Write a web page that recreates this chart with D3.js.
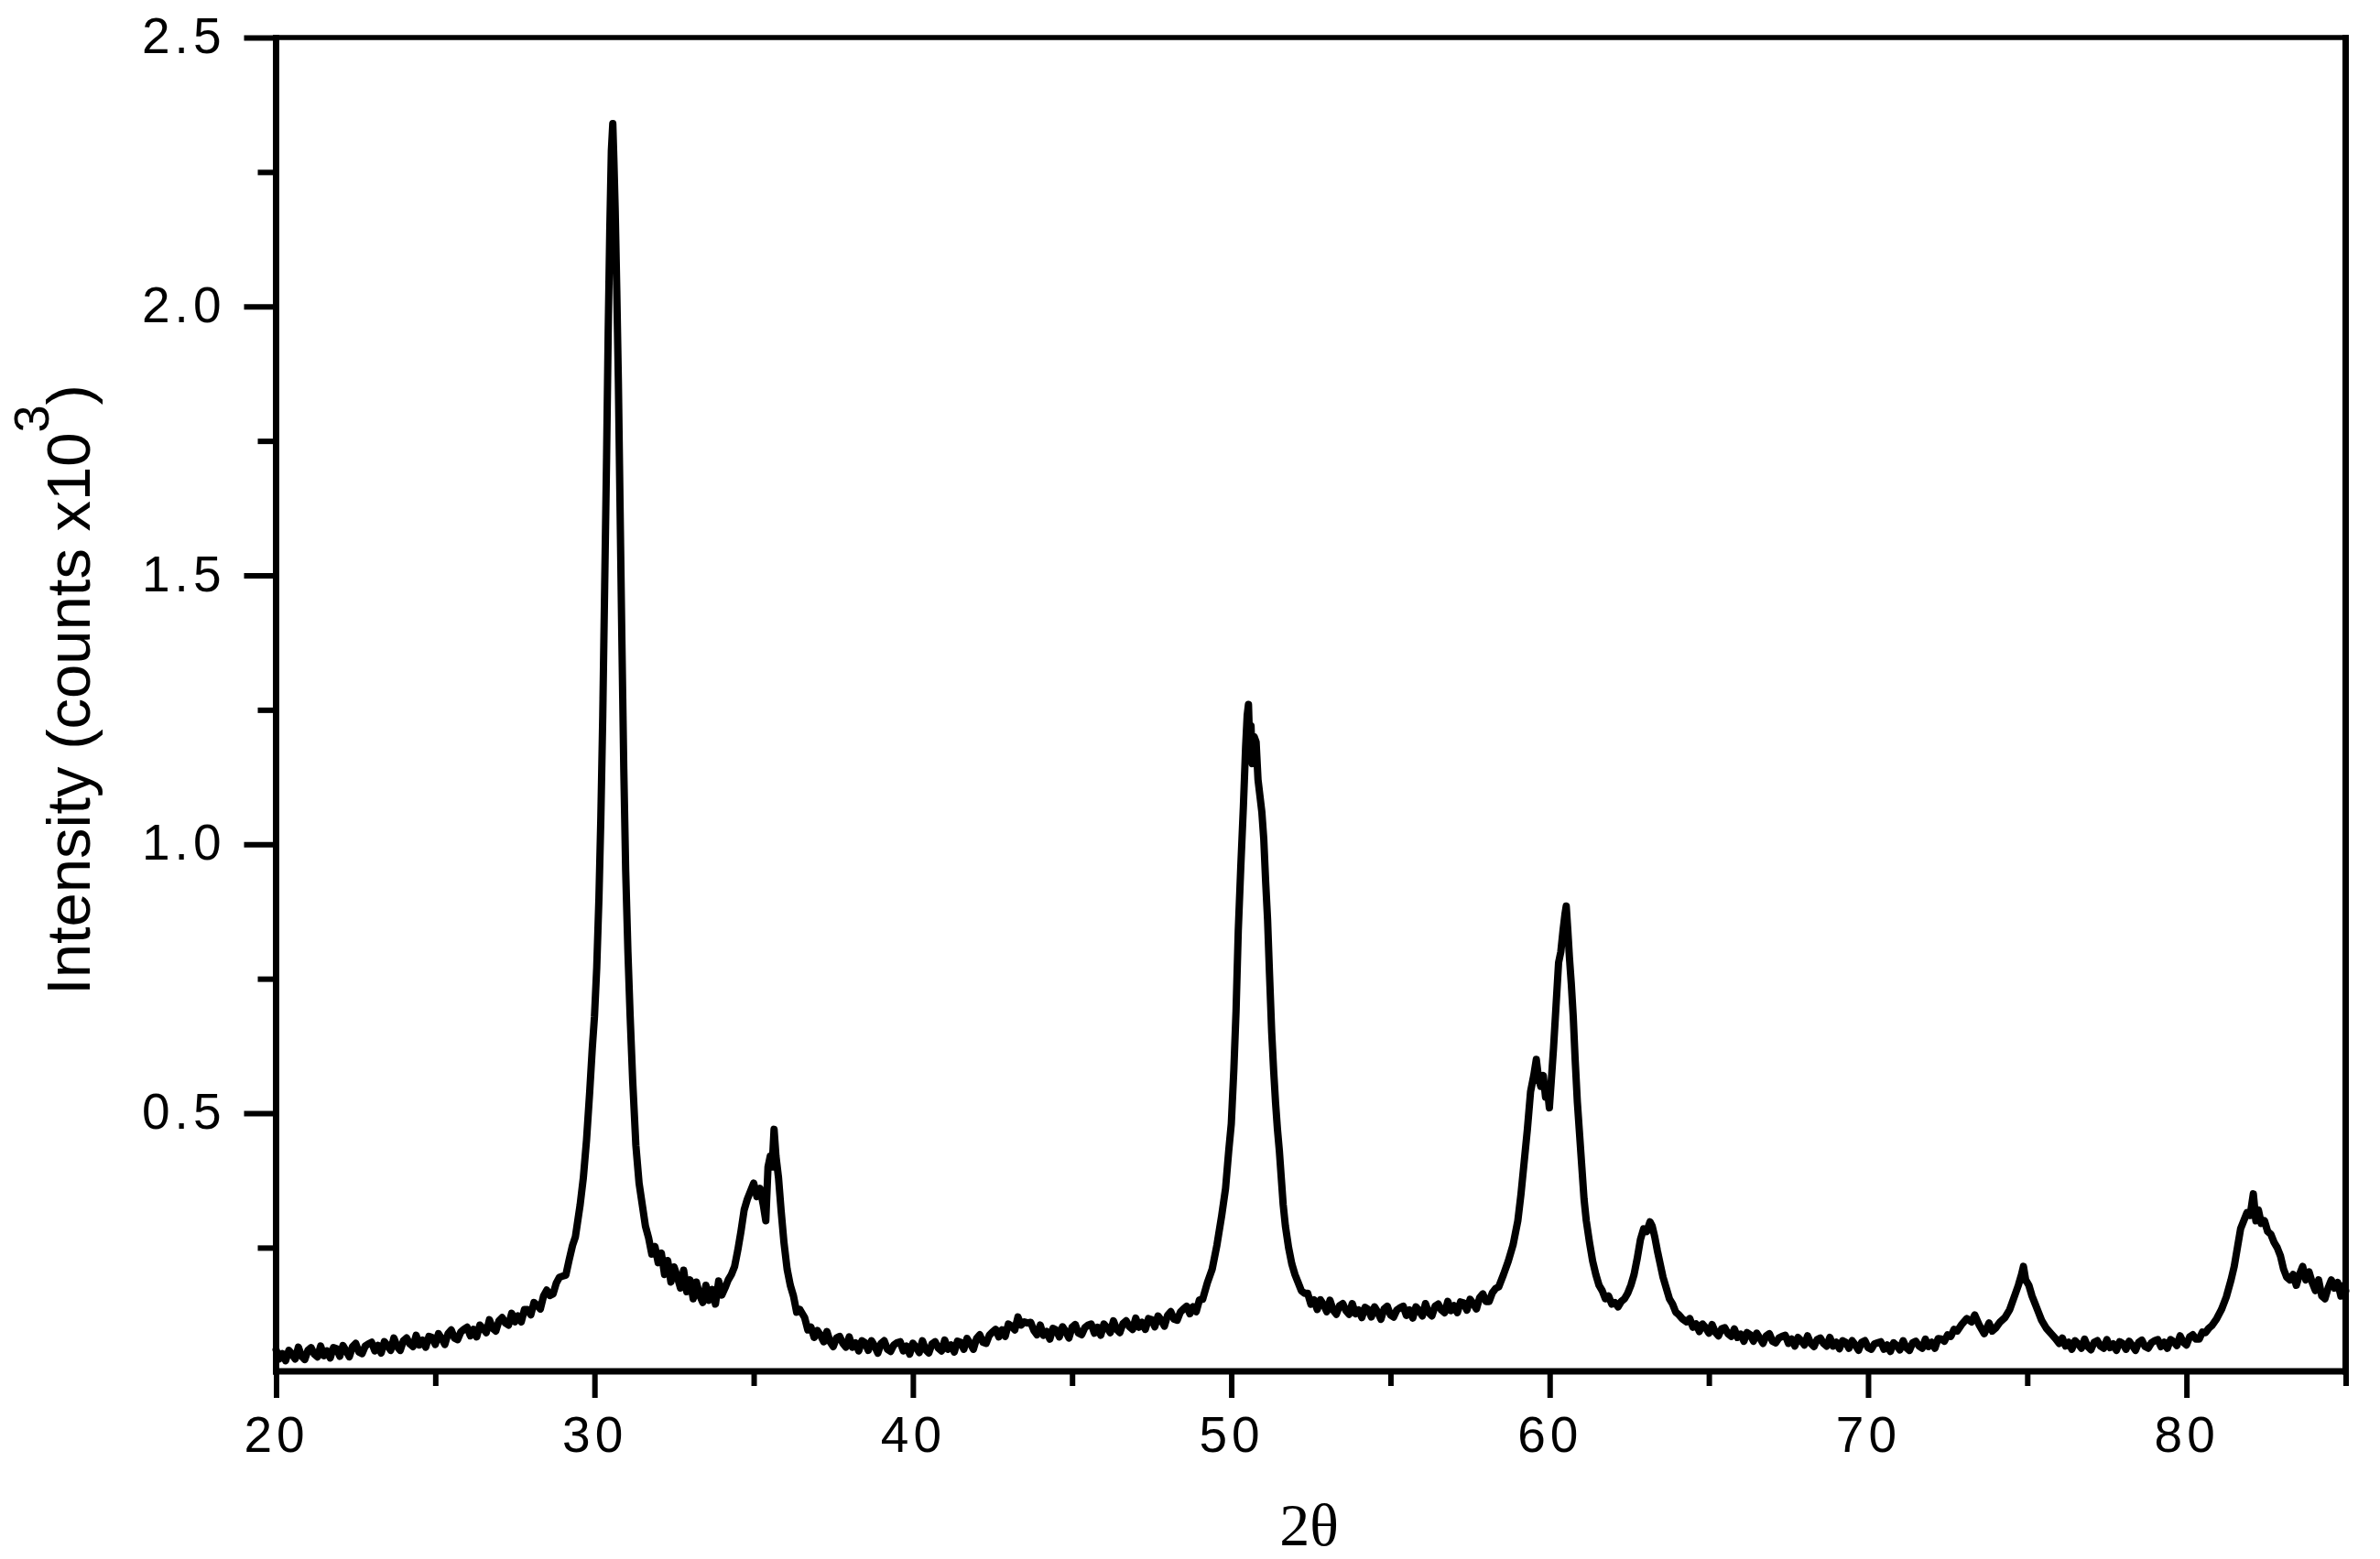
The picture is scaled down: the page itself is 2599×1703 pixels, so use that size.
<!DOCTYPE html>
<html><head><meta charset="utf-8">
<script src="https://cdn.jsdelivr.net/npm/d3@7"></script>
<style>html,body{margin:0;padding:0;background:#fff;} svg{display:block;}</style>
</head><body><div id="chart"></div>
<script>
// ---- tick values & labels ----
const xMajorTicks = [20, 30, 40, 50, 60, 70, 80];
const xMinorTicks = [25, 35, 45, 55, 65, 75, 85];
const yMajorTicks = [0.5, 1.0, 1.5, 2.0, 2.5];
const yMinorTicks = [0.25, 0.75, 1.25, 1.75, 2.25];
const xLabel = "2θ";
const yLabelMain = "Intensity (counts x10";
const yLabelSup = "3";
const yLabelEnd = ")";

// ---- series: [2θ, intensity (counts x10^3)] ----
const bgLow = [[20.0,0.060],[20.1,0.043],[20.2,0.053],[20.3,0.040],[20.4,0.059],[20.5,0.052],[20.6,0.043],[20.7,0.065],[20.8,0.048],[20.9,0.042],
 [21.0,0.059],[21.1,0.064],[21.2,0.052],[21.3,0.047],[21.4,0.067],[21.5,0.049],[21.6,0.058],[21.7,0.045],[21.8,0.064],[21.9,0.062],
 [22.0,0.048],[22.1,0.068],[22.2,0.058],[22.3,0.047],[22.4,0.066],[22.5,0.072],[22.6,0.056],[22.7,0.053],[22.8,0.067],[22.9,0.071],
 [23.0,0.074],[23.1,0.058],[23.2,0.068],[23.3,0.054],[23.4,0.075],[23.5,0.068],[23.6,0.059],[23.7,0.082],[23.8,0.066],[23.9,0.059],
 [24.0,0.077],[24.1,0.082],[24.2,0.071],[24.3,0.066],[24.4,0.087],[24.5,0.069],[24.6,0.078],[24.7,0.065],[24.8,0.085],[24.9,0.083],
 [25.0,0.070],[25.1,0.090],[25.2,0.081],[25.3,0.070],[25.4,0.090],[25.5,0.097],[25.6,0.082],[25.7,0.079],[25.8,0.093],[25.9,0.098],
 [26.0,0.102],[26.1,0.086],[26.2,0.098],[26.3,0.084],[26.4,0.106],[26.5,0.100],[26.6,0.092],[26.7,0.116],[26.8,0.100],[26.9,0.095],
 [27.0,0.114],[27.1,0.120],[27.2,0.110],[27.3,0.106],[27.4,0.128],[27.5,0.112],[27.6,0.123],[27.7,0.112],[27.8,0.135],[27.9,0.135],
 [28.0,0.125],[28.1,0.148],[28.2,0.143],[28.3,0.136],[28.4,0.160],[28.5,0.171],[28.6,0.161],[28.7,0.164],[28.8,0.184],[28.9,0.195],
 [29.0,0.197],[29.1,0.199],[29.2,0.226]];
const peak30 = [[29.31,0.254],[29.4,0.27],[29.55,0.33],[29.65,0.38],[29.75,0.45],[29.85,0.54],[29.93,0.62],[30.0,0.68],[30.07,0.77],[30.14,0.90],
 [30.2,1.05],[30.26,1.24],[30.32,1.48],[30.38,1.72],[30.43,1.95],[30.48,2.14],[30.53,2.29],[30.575,2.34],[30.61,2.27],[30.65,2.18],
 [30.7,2.03],[30.75,1.86],[30.8,1.64],[30.86,1.38],[30.92,1.14],[30.98,0.95],[31.05,0.80],[31.12,0.68],[31.2,0.56],[31.3,0.44],
 [31.4,0.37],[31.5,0.33],[31.6,0.29]];
const valley33 = [[31.7,0.268],[31.8,0.238],[31.9,0.252],[32.0,0.222],[32.1,0.240],[32.2,0.200],[32.3,0.226],[32.4,0.186],[32.5,0.214],[32.6,0.196],
 [32.7,0.175],[32.8,0.208],[32.9,0.168],[33.0,0.19],[33.1,0.155],[33.2,0.186],[33.3,0.162],[33.4,0.148],[33.5,0.18],[33.6,0.152],
 [33.7,0.172],[33.8,0.145],[33.9,0.188],[34.0,0.162],[34.1,0.175],[34.2,0.19],[34.3,0.20]];
const peak35 = [[34.4,0.215],[34.5,0.245],[34.6,0.28],[34.7,0.32],[34.8,0.34],[34.9,0.355],[35.0,0.37],[35.1,0.345],[35.2,0.36],[35.3,0.33],
 [35.38,0.30],[35.45,0.40],[35.52,0.42],[35.58,0.40],[35.64,0.47],[35.7,0.42],[35.78,0.38],[35.86,0.32],[35.95,0.26],[36.05,0.21],
 [36.15,0.18],[36.25,0.16],[36.35,0.13],[36.45,0.135]];
const bgMid = [[36.6,0.120],[36.7,0.097],[36.8,0.102],[36.9,0.083],[37.0,0.096],[37.1,0.087],[37.2,0.075],[37.3,0.094],[37.4,0.075],[37.5,0.066],
 [37.6,0.082],[37.7,0.085],[37.8,0.072],[37.9,0.065],[38.0,0.084],[38.1,0.065],[38.2,0.073],[38.3,0.058],[38.4,0.077],[38.5,0.073],
 [38.6,0.059],[38.7,0.077],[38.8,0.067],[38.9,0.054],[39.0,0.072],[39.1,0.077],[39.2,0.061],[39.3,0.057],[39.4,0.069],[39.5,0.073],
 [39.6,0.075],[39.7,0.058],[39.8,0.067],[39.9,0.052],[40.0,0.072],[40.1,0.065],[40.2,0.055],[40.3,0.077],[40.4,0.060],[40.5,0.054],
 [40.6,0.071],[40.7,0.075],[40.8,0.063],[40.9,0.058],[41.0,0.078],[41.1,0.061],[41.2,0.069],[41.3,0.056],[41.4,0.076],[41.5,0.074],
 [41.6,0.061],[41.7,0.081],[41.8,0.072],[41.9,0.061],[42.0,0.081],[42.1,0.088],[42.2,0.074],[42.3,0.072],[42.4,0.087],[42.5,0.093],
 [42.6,0.098],[42.7,0.084],[42.8,0.097],[42.9,0.085],[43.0,0.108],[43.1,0.104],[43.2,0.097],[43.3,0.121],[43.4,0.106],[43.5,0.112],
 [43.6,0.110],[43.7,0.111],[43.8,0.096],[43.9,0.088],[44.0,0.106],[44.1,0.087],[44.2,0.094],[44.3,0.080],[44.4,0.100],[44.5,0.097],
 [44.6,0.084],[44.7,0.103],[44.8,0.094],[44.9,0.082],[45.0,0.102],[45.1,0.107],[45.2,0.091],[45.3,0.088],[45.4,0.101],[45.5,0.106],
 [45.6,0.108],[45.7,0.091],[45.8,0.102],[45.9,0.087],[46.0,0.108],[46.1,0.101],[46.2,0.092],[46.3,0.114],[46.4,0.098],[46.5,0.092],
 [46.6,0.109],[46.7,0.114],[46.8,0.103],[46.9,0.098],[47.0,0.119],[47.1,0.102],[47.2,0.111],[47.3,0.098],[47.4,0.118],[47.5,0.116],
 [47.6,0.103],[47.7,0.123],[47.8,0.115],[47.9,0.104],[48.0,0.124],[48.1,0.131],[48.2,0.117],[48.3,0.115],[48.4,0.130],[48.5,0.136],
 [48.6,0.141],[48.7,0.127],[48.8,0.140],[48.9,0.131],[49.0,0.153],[49.1,0.154]];
const peak50 = [[49.25,0.185],[49.4,0.21],[49.55,0.255],[49.7,0.31],[49.82,0.36],[49.92,0.43],[50.0,0.48],[50.08,0.58],[50.15,0.69],[50.22,0.84],
 [50.3,0.96],[50.38,1.07],[50.45,1.18],[50.5,1.24],[50.54,1.26],[50.58,1.18],[50.62,1.22],[50.66,1.15],[50.72,1.20],[50.78,1.19],
 [50.84,1.12],[50.9,1.09],[50.96,1.06],[51.02,1.01],[51.08,0.93],[51.14,0.86],[51.2,0.76],[51.27,0.65],[51.33,0.58],[51.39,0.52],
 [51.45,0.47],[51.51,0.43],[51.57,0.38],[51.63,0.33],[51.7,0.29],[51.8,0.25],[51.9,0.22],[52.0,0.2],[52.1,0.185],[52.2,0.17],[52.3,0.165]];
const bg55 = [[52.4,0.165],[52.5,0.145],[52.6,0.153],[52.7,0.135],[52.8,0.153],[52.9,0.144],[53.0,0.131],[53.1,0.152],[53.2,0.134],[53.3,0.126],
 [53.4,0.142],[53.5,0.146],[53.6,0.133],[53.7,0.126],[53.8,0.146],[53.9,0.127],[54.0,0.134],[54.1,0.120],[54.2,0.139],[54.3,0.135],
 [54.4,0.121],[54.5,0.140],[54.6,0.130],[54.7,0.117],[54.8,0.136],[54.9,0.141],[55.0,0.125],[55.1,0.121],[55.2,0.134],[55.3,0.138],
 [55.4,0.141],[55.5,0.124],[55.6,0.134],[55.7,0.119],[55.8,0.140],[55.9,0.133],[56.0,0.123],[56.1,0.146],[56.2,0.129],[56.3,0.123],
 [56.4,0.141],[56.5,0.145],[56.6,0.134],[56.7,0.129],[56.8,0.150],[56.9,0.133],[57.0,0.142],[57.1,0.129],[57.2,0.149],[57.3,0.147],
 [57.4,0.134],[57.5,0.154],[57.6,0.146],[57.7,0.136],[57.8,0.157],[57.9,0.164],[58.0,0.150],[58.1,0.150],[58.2,0.166],[58.3,0.174],
 [58.4,0.177]];
const peak60 = [[58.55,0.2],[58.7,0.225],[58.85,0.255],[59.0,0.3],[59.1,0.35],[59.2,0.41],[59.3,0.47],[59.4,0.54],[59.5,0.57],[59.58,0.6],
 [59.65,0.565],[59.72,0.55],[59.8,0.57],[59.87,0.53],[59.93,0.545],[59.99,0.51],[60.05,0.56],[60.12,0.62],[60.2,0.70],[60.28,0.78],
 [60.35,0.80],[60.42,0.84],[60.48,0.87],[60.52,0.885],[60.57,0.84],[60.62,0.79],[60.68,0.74],[60.74,0.68],[60.8,0.6],[60.87,0.52],
 [60.94,0.46],[61.01,0.4],[61.08,0.34],[61.15,0.3],[61.25,0.26],[61.35,0.225],[61.45,0.2],[61.55,0.18],[61.65,0.17],[61.75,0.155],
 [61.85,0.16],[61.95,0.145],[62.05,0.148],[62.15,0.14],[62.25,0.15],[62.35,0.155],[62.45,0.165]];
const peak63 = [[62.55,0.18],[62.65,0.2],[62.75,0.23],[62.85,0.265],[62.95,0.285],[63.05,0.28],[63.15,0.298],[63.22,0.29],[63.3,0.27],[63.38,0.245],
 [63.47,0.22],[63.56,0.195],[63.66,0.175],[63.76,0.155],[63.86,0.145],[63.96,0.13],[64.06,0.125],[64.16,0.118],[64.3,0.112]];
const bg68 = [[64.4,0.118],[64.5,0.102],[64.6,0.108],[64.7,0.094],[64.8,0.108],[64.9,0.101],[65.0,0.091],[65.1,0.107],[65.2,0.093],[65.3,0.086],
 [65.4,0.099],[65.5,0.101],[65.6,0.090],[65.7,0.085],[65.8,0.099],[65.9,0.083],[66.0,0.089],[66.1,0.076],[66.2,0.092],[66.3,0.088],
 [66.4,0.076],[66.5,0.091],[66.6,0.082],[66.7,0.072],[66.8,0.086],[66.9,0.090],[67.0,0.076],[67.1,0.073],[67.2,0.082],[67.3,0.085],
 [67.4,0.087],[67.5,0.072],[67.6,0.080],[67.7,0.067],[67.8,0.083],[67.9,0.077],[68.0,0.069],[68.1,0.086],[68.2,0.072],[68.3,0.066],
 [68.4,0.079],[68.5,0.082],[68.6,0.072],[68.7,0.067],[68.8,0.083],[68.9,0.067],[69.0,0.074],[69.1,0.062],[69.2,0.077],[69.3,0.074],
 [69.4,0.063],[69.5,0.077],[69.6,0.069],[69.7,0.059],[69.8,0.074],[69.9,0.077],[70.0,0.064],[70.1,0.061],[70.2,0.071],[70.3,0.073],
 [70.4,0.075],[70.5,0.061],[70.6,0.069],[70.7,0.057],[70.8,0.073],[70.9,0.068],[71.0,0.060],[71.1,0.077],[71.2,0.064],[71.3,0.059],
 [71.4,0.073],[71.5,0.076],[71.6,0.067],[71.7,0.063],[71.8,0.080],[71.9,0.066],[72.0,0.074],[72.1,0.063],[72.2,0.081],[72.3,0.080],
 [72.4,0.076],[72.5,0.088]];
const peak73to75 = [[72.6,0.085],[72.7,0.098],[72.8,0.095],[72.95,0.108],[73.1,0.118],[73.25,0.112],[73.35,0.125],[73.5,0.105],[73.65,0.09],[73.8,0.11],[73.9,0.095],
 [74.0,0.1],[74.15,0.112],[74.3,0.12],[74.45,0.135],[74.6,0.16],[74.72,0.18],[74.82,0.2],[74.88,0.215],[74.95,0.19],[75.05,0.18],
 [75.15,0.16],[75.25,0.145],[75.35,0.13],[75.45,0.115],[75.6,0.1],[75.75,0.09],[75.9,0.08],[76.0,0.072]];
const bg78 = [[76.1,0.082],[76.2,0.067],[76.3,0.074],[76.4,0.061],[76.5,0.077],[76.6,0.071],[76.7,0.063],[76.8,0.080],[76.9,0.066],[77.0,0.060],
 [77.1,0.074],[77.2,0.077],[77.3,0.067],[77.4,0.063],[77.5,0.079],[77.6,0.064],[77.7,0.071],[77.8,0.059],[77.9,0.075],[78.0,0.072],
 [78.1,0.061],[78.2,0.076],[78.3,0.068],[78.4,0.059],[78.5,0.074],[78.6,0.078],[78.7,0.066],[78.8,0.063],[78.9,0.073],[79.0,0.077],
 [79.1,0.079],[79.2,0.066],[79.3,0.074],[79.4,0.063],[79.5,0.079],[79.6,0.075],[79.7,0.068],[79.8,0.086],[79.9,0.074],[80.0,0.069],
 [80.1,0.084],[80.2,0.088],[80.3,0.080],[80.4,0.080],[80.5,0.093]];
const peak82 = [[80.6,0.092],[80.7,0.1],[80.8,0.105],[80.95,0.118],[81.1,0.135],[81.25,0.158],[81.4,0.19],[81.5,0.215],[81.6,0.25],[81.7,0.285],[81.8,0.3],
 [81.9,0.315],[82.0,0.31],[82.1,0.35],[82.18,0.3],[82.26,0.32],[82.35,0.295],[82.45,0.3],[82.55,0.28],[82.65,0.275],[82.75,0.26],
 [82.85,0.25],[82.95,0.235],[83.05,0.21],[83.15,0.195],[83.25,0.19],[83.35,0.2],[83.45,0.18],[83.55,0.2],[83.65,0.215],[83.75,0.19],
 [83.85,0.205],[83.95,0.185],[84.05,0.17],[84.15,0.19],[84.25,0.16],[84.35,0.155],[84.45,0.175],[84.55,0.19],[84.65,0.175],[84.75,0.185],
 [84.85,0.16],[84.95,0.18],[85.0,0.17]];

const series = [].concat(bgLow, peak30, valley33, peak35, bgMid, peak50, bg55, peak60, peak63, bg68, peak73to75, bg78, peak82);

// ---- layout ----
const W = 2599, H = 1703;
const plotLeft = 301.5, plotRight = 2561.5, plotTop = 41, plotBottom = 1498;
const FONT = "'Liberation Sans', Arial, Helvetica, sans-serif";
const SERIF = "'Liberation Serif', 'Times New Roman', serif";

const svg = d3.select("#chart").append("svg").attr("width", W).attr("height", H)
  .style("background", "#fff");

const x = d3.scaleLinear().domain([20, 85]).range([plotLeft, plotRight]);
const y = d3.scaleLinear().domain([0.02, 2.5]).range([plotBottom, plotTop]);

// curve
svg.append("path").datum(series)
  .attr("fill", "none").attr("stroke", "#000").attr("stroke-width", 8)
  .attr("stroke-linejoin", "round").attr("stroke-linecap", "round")
  .attr("d", d3.line().x(d => x(d[0])).y(d => y(d[1])));

function styleAxis(g, sw) {
  g.attr("font-family", FONT).attr("font-size", 55);
  g.select(".domain").remove();
  g.selectAll(".tick line").attr("stroke", "#000").attr("stroke-width", sw);
  g.selectAll(".tick text").attr("fill", "#000").style("letter-spacing", "5px");
}

// x axis
const gxMinor = svg.append("g").attr("transform", `translate(0,${plotBottom})`)
  .call(d3.axisBottom(x).tickValues(xMinorTicks).tickSize(16).tickSizeOuter(0).tickFormat(""));
styleAxis(gxMinor, 6);
const gx = svg.append("g").attr("transform", `translate(0,${plotBottom})`)
  .call(d3.axisBottom(x).tickValues(xMajorTicks).tickSize(29).tickSizeOuter(0).tickPadding(20).tickFormat(d3.format("d")));
styleAxis(gx, 6);

// y axis
const gyMinor = svg.append("g").attr("transform", `translate(${plotLeft},0)`)
  .call(d3.axisLeft(y).tickValues(yMinorTicks).tickSize(20).tickSizeOuter(0).tickFormat(""));
styleAxis(gyMinor, 6);
const gy = svg.append("g").attr("transform", `translate(${plotLeft},0)`)
  .call(d3.axisLeft(y).tickValues(yMajorTicks).tickSize(35).tickSizeOuter(0).tickPadding(20).tickFormat(d3.format(".1f")));
styleAxis(gy, 6);
gy.selectAll(".tick text").attr("dy", "0.3em");

// frame
const frame = svg.append("g").attr("stroke", "#000");
frame.append("line").attr("x1", x(20) - 3.5).attr("x2", x(85) + 3.5).attr("y1", y(0.02)).attr("y2", y(0.02)).attr("stroke-width", 7);
frame.append("line").attr("x1", x(20)).attr("x2", x(20)).attr("y1", y(2.5) - 3).attr("y2", y(0.02) + 3.5).attr("stroke-width", 7);
frame.append("line").attr("x1", x(85)).attr("x2", x(85)).attr("y1", y(2.5) - 3).attr("y2", y(0.02) + 3.5).attr("stroke-width", 7);
frame.append("line").attr("x1", x(20)).attr("x2", x(85) + 3.5).attr("y1", y(2.5)).attr("y2", y(2.5)).attr("stroke-width", 5.5);

// axis titles
svg.append("text").attr("x", (plotLeft + plotRight) / 2 - 2).attr("y", 1688)
  .attr("text-anchor", "middle").attr("font-family", SERIF).attr("font-size", 66).attr("fill", "#000")
  .text(xLabel);

const yl = svg.append("text").attr("transform", `translate(98,${(plotTop + plotBottom) / 2 - 16}) rotate(-90)`)
  .attr("text-anchor", "middle").attr("font-family", FONT).attr("font-size", 67).attr("fill", "#000");
yl.append("tspan").text(yLabelMain);
yl.append("tspan").attr("font-size", 54).attr("dy", -45).text(yLabelSup);
yl.append("tspan").attr("dy", 45).text(yLabelEnd);
</script>
</body></html>
